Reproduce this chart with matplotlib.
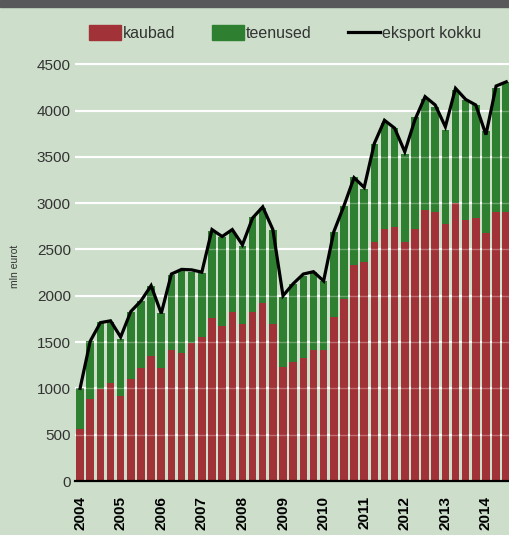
import matplotlib

matplotlib.use("Agg")
import matplotlib.pyplot as plt
from matplotlib.lines import Line2D
from matplotlib.patches import Patch, Rectangle

YEARS = ["2004", "2005", "2006", "2007", "2008", "2009",
         "2010", "2011", "2012", "2013", "2014"]

# quarterly values, 2004 Q1 .. 2014 Q3 (mln eurot)
kaubad = [560, 890, 990, 1055, 920, 1100, 1215, 1355, 1215, 1420, 1380,
          1485, 1560, 1765, 1675, 1830, 1695, 1830, 1920, 1695,
          1235, 1280, 1330, 1420, 1420, 1770, 1970, 2335, 2360,
          2585, 2720, 2745, 2585, 2720, 2925, 2900, 2770, 3000,
          2815, 2835, 2675, 2900, 2900]
teenused = [440, 620, 725, 665, 615, 730, 730, 755, 595, 800, 885,
            775, 685, 935, 955, 855, 840, 1025, 1025, 1020,
            755, 845, 880, 835, 735, 915, 1000, 945, 795,
            1055, 1150, 1065, 945, 1210, 1205, 1140, 1020, 1225,
            1300, 1230, 1100, 1345, 1410]
eksport_kokku = [1000, 1510, 1710, 1730, 1555, 1830, 1945, 2110, 1810, 2235,
                 2285, 2280, 2255, 2715, 2640, 2715, 2550, 2840, 2960, 2715,
                 2000, 2130, 2235, 2260, 2160, 2690, 2970, 3275, 3170,
                 3645, 3895, 3810, 3555, 3900, 4150, 4060, 3825, 4240,
                 4120, 4060, 3740, 4265, 4310]

BG = "#cddfcb"
RED = "#a13237"
GREEN = "#2e7f2f"
TEXT = "#333333"

plt.rcParams["font.family"] = ["Liberation Sans", "DejaVu Sans"]

fig = plt.figure(figsize=(5.10, 5.35), dpi=100, facecolor=BG)
ax = fig.add_axes([75 / 510, 0.1009, 1 - 75 / 510, 0.7963])
ax.set_facecolor(BG)

x = list(range(len(kaubad)))
ax.bar(x, kaubad, width=0.74, color=RED, zorder=2)
ax.bar(x, teenused, width=0.74, bottom=kaubad, color=GREEN, zorder=2)
ax.plot(x, eksport_kokku, color="black", linewidth=2.3, zorder=4,
        solid_joinstyle="miter")

ax.set_xlim(-0.5, 42.37)
ax.set_ylim(0, 4600)
yticks = list(range(0, 4501, 500))
ax.set_yticks(yticks)
ax.set_yticklabels([str(v) for v in yticks])
ax.set_axisbelow(True)
ax.grid(axis="y", color="white", linewidth=1.5)
# faint grid showing through the bars
for v in yticks[1:]:
    ax.axhline(v, color="white", linewidth=1.0, alpha=0.3, zorder=3)

ax.set_xticks(range(0, len(kaubad), 4))
ax.set_xticklabels(YEARS, rotation=90, fontweight="bold", fontsize=11,
                   color="black")
ax.tick_params(axis="x", length=0, pad=11)
ax.tick_params(axis="y", length=0, pad=3, labelsize=11, labelcolor=TEXT)

for side in ("top", "right", "left"):
    ax.spines[side].set_visible(False)
ax.spines["bottom"].set_linewidth(1.6)
ax.spines["bottom"].set_color("black")
ax.spines["bottom"].set_zorder(5)

fig.text(15 / 510, 1 - 266 / 535, "mln eurot", rotation=90, fontsize=7.5,
         color=TEXT, ha="center", va="center")

fig.patches.append(Rectangle((0, 1 - 7 / 535), 1, 7 / 535,
                             transform=fig.transFigure, color="#58585a",
                             zorder=10))

handles = [Patch(color=RED), Patch(color=GREEN),
           Line2D([], [], color="black", linewidth=2.3)]
fig.legend(handles, ["kaubad", "teenused", "eksport kokku"], ncol=3,
           loc="upper left", bbox_to_anchor=(81 / 510, 1 - 17 / 535),
           frameon=False, fontsize=11.5, handlelength=2.0, handleheight=1.1,
           handletextpad=0.15, columnspacing=2.25, borderpad=0,
           labelcolor=TEXT)

fig.savefig("out.png", dpi=100, facecolor=BG)
